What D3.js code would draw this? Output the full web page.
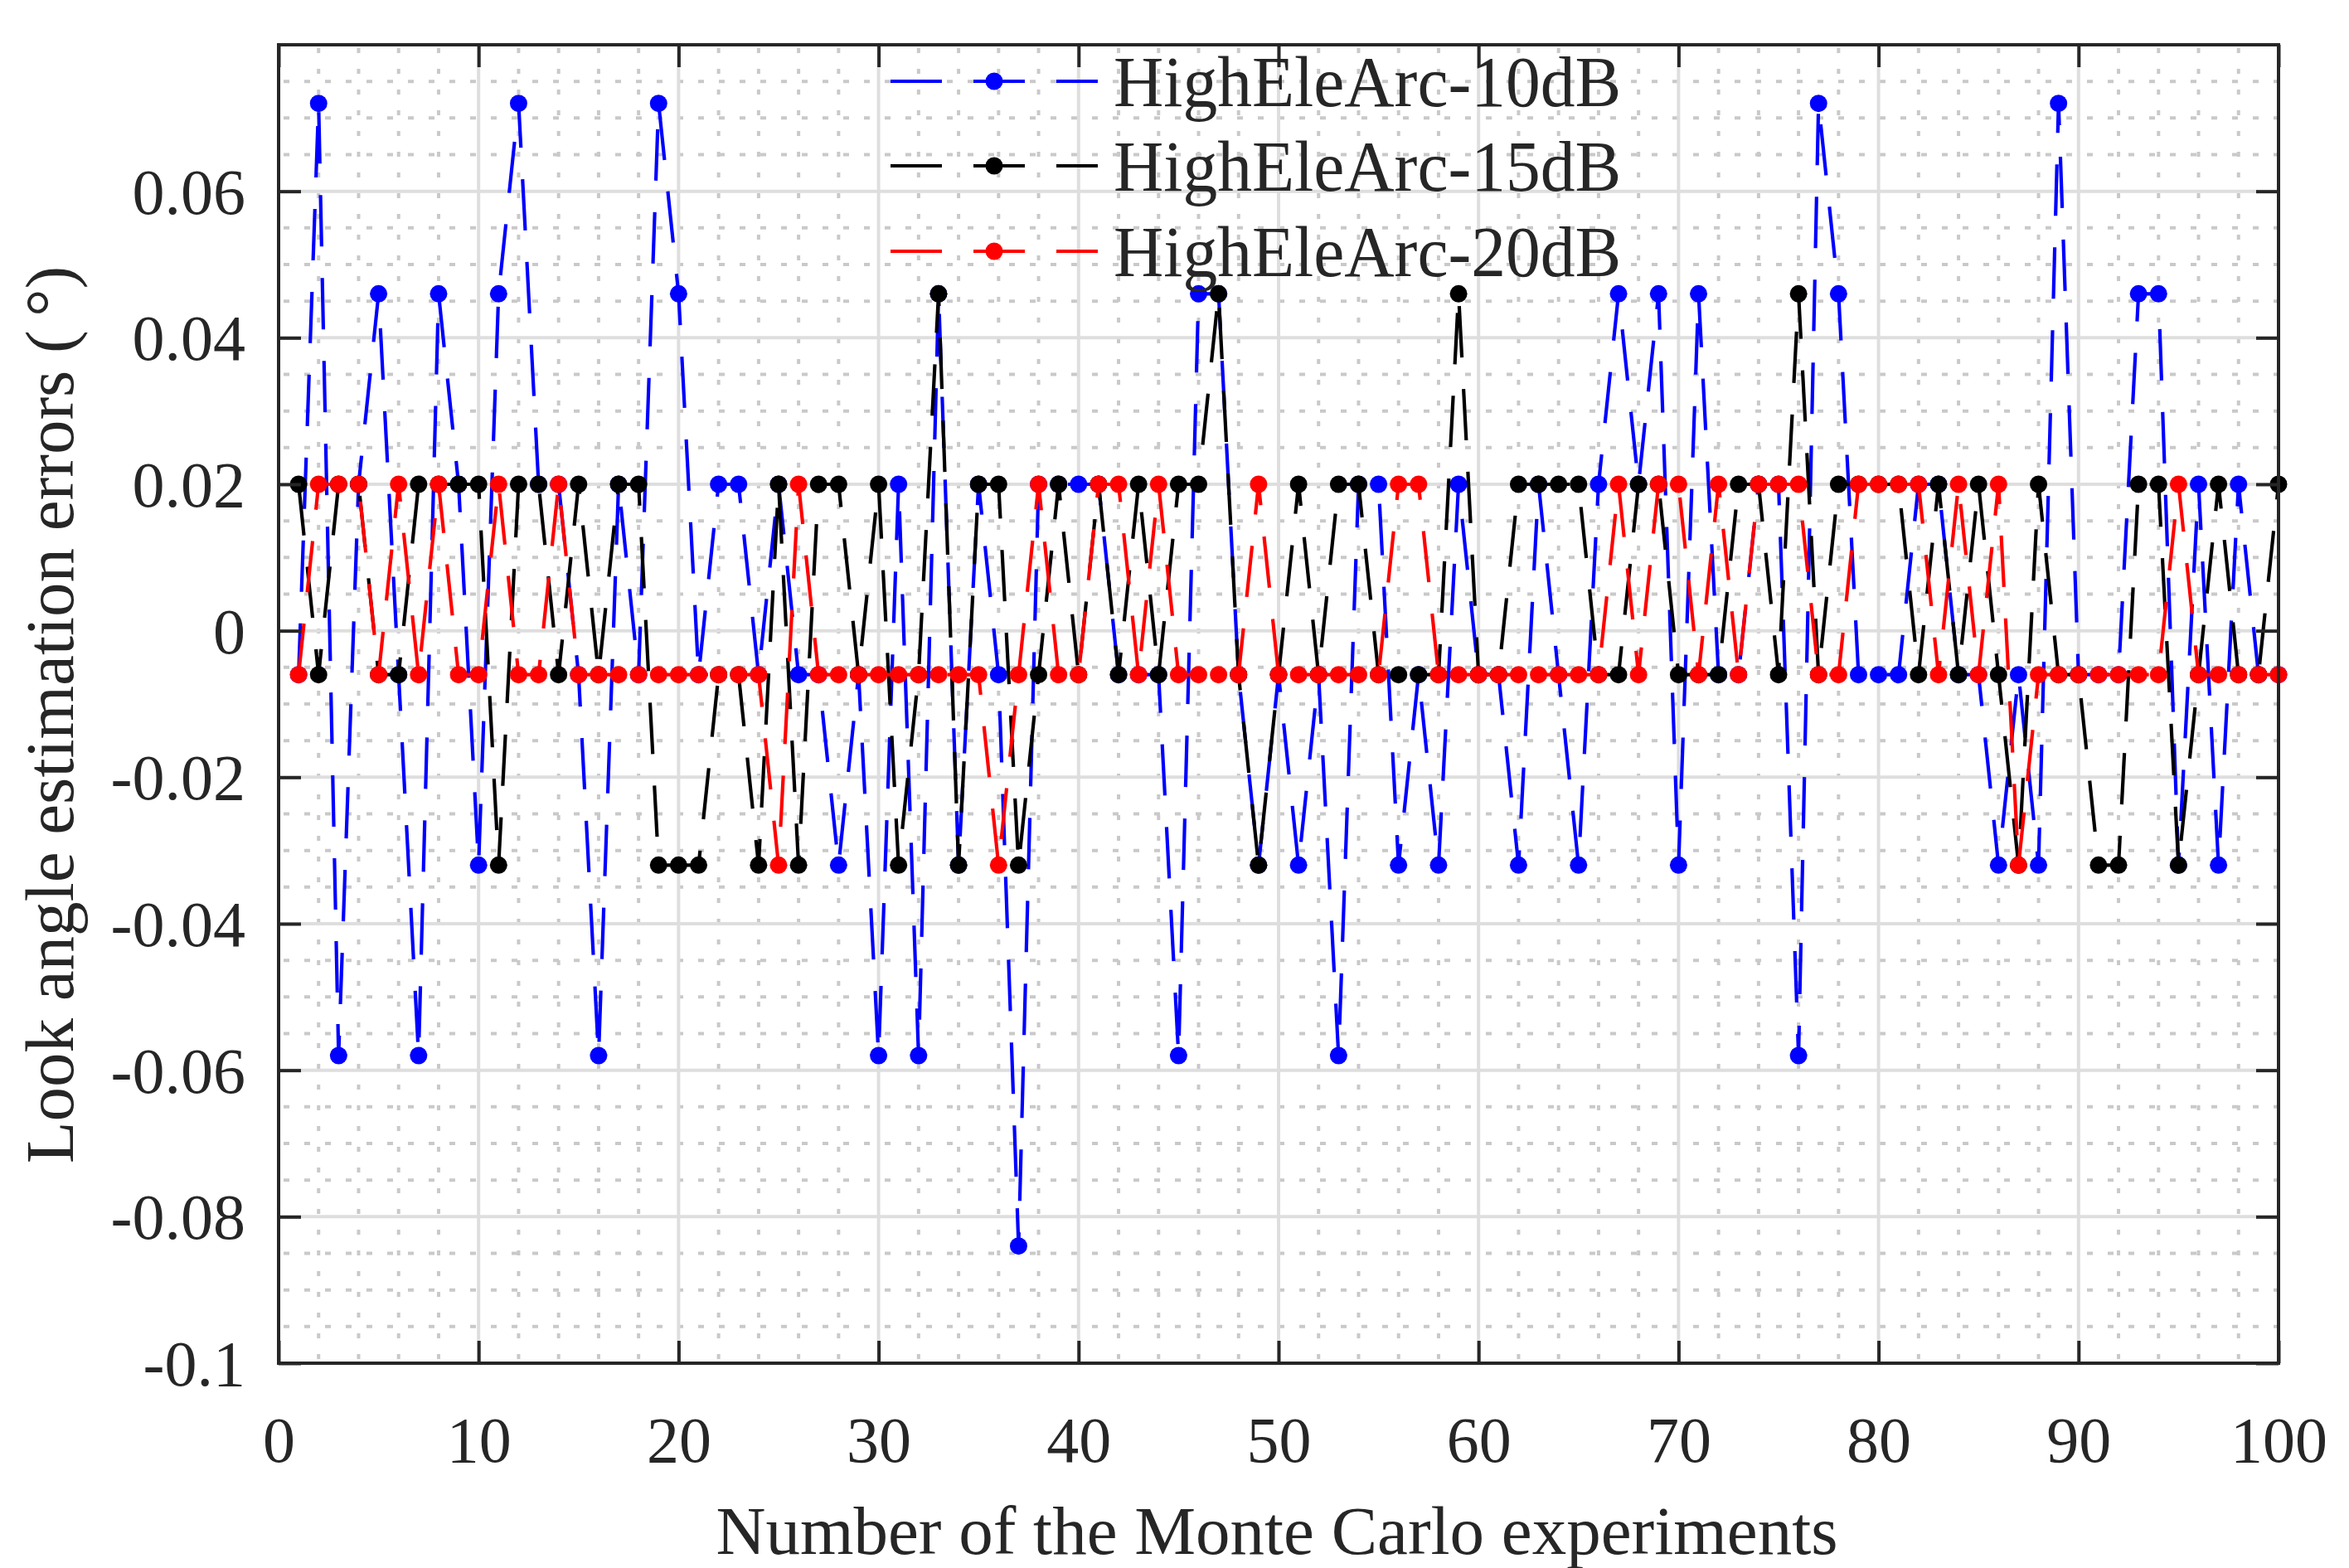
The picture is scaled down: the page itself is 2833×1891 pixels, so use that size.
<!DOCTYPE html>
<html>
<head>
<meta charset="utf-8">
<script src="https://cdn.jsdelivr.net/npm/d3@7"></script>
<style>
  html, body { margin: 0; padding: 0; background: #ffffff; }
  svg { display: block; }
  text { font-family: "Liberation Serif", "Times New Roman", serif; fill: #262626; }
</style>
</head>
<body>
<svg id="chart" width="2833" height="1891"></svg>
<script>
// ---------------- data ----------------
const experimentNo = d3.range(1, 101);

const err10dB = [
  -0.006, 0.072, -0.058, 0.02, 0.046, -0.006, -0.058, 0.046, 0.02, -0.032,
  0.046, 0.072, 0.02, 0.02, -0.006, -0.058, 0.02, -0.006, 0.072, 0.046,
  -0.006, 0.02, 0.02, -0.006, 0.02, -0.006, -0.006, -0.032, -0.006, -0.058,
  0.02, -0.058, 0.046, -0.032, 0.02, -0.006, -0.084, 0.02, 0.02, 0.02,
  0.02, -0.006, -0.006, -0.006, -0.058, 0.046, 0.046, -0.006, -0.032, -0.006,
  -0.032, -0.006, -0.058, 0.02, 0.02, -0.032, -0.006, -0.032, 0.02, -0.006,
  -0.006, -0.032, 0.02, -0.006, -0.032, 0.02, 0.046, 0.02, 0.046, -0.032,
  0.046, -0.006, -0.006, 0.02, 0.02, -0.058, 0.072, 0.046, -0.006, -0.006,
  -0.006, 0.02, 0.02, -0.006, -0.006, -0.032, -0.006, -0.032, 0.072, -0.006,
  -0.006, -0.006, 0.046, 0.046, -0.032, 0.02, -0.032, 0.02, -0.006, -0.006
];

const err15dB = [
  0.02, -0.006, 0.02, 0.02, -0.006, -0.006, 0.02, 0.02, 0.02, 0.02,
  -0.032, 0.02, 0.02, -0.006, 0.02, -0.006, 0.02, 0.02, -0.032, -0.032,
  -0.032, -0.006, -0.006, -0.032, 0.02, -0.032, 0.02, 0.02, -0.006, 0.02,
  -0.032, -0.006, 0.046, -0.032, 0.02, 0.02, -0.032, -0.006, 0.02, -0.006,
  0.02, -0.006, 0.02, -0.006, 0.02, 0.02, 0.046, -0.006, -0.032, -0.006,
  0.02, -0.006, 0.02, 0.02, -0.006, -0.006, -0.006, -0.006, 0.046, -0.006,
  -0.006, 0.02, 0.02, 0.02, 0.02, -0.006, -0.006, 0.02, 0.02, -0.006,
  -0.006, -0.006, 0.02, 0.02, -0.006, 0.046, -0.006, 0.02, 0.02, 0.02,
  0.02, -0.006, 0.02, -0.006, 0.02, -0.006, -0.032, 0.02, -0.006, -0.006,
  -0.032, -0.032, 0.02, 0.02, -0.032, -0.006, 0.02, -0.006, -0.006, 0.02
];

const err20dB = [
  -0.006, 0.02, 0.02, 0.02, -0.006, 0.02, -0.006, 0.02, -0.006, -0.006,
  0.02, -0.006, -0.006, 0.02, -0.006, -0.006, -0.006, -0.006, -0.006, -0.006,
  -0.006, -0.006, -0.006, -0.006, -0.032, 0.02, -0.006, -0.006, -0.006, -0.006,
  -0.006, -0.006, -0.006, -0.006, -0.006, -0.032, -0.006, 0.02, -0.006, -0.006,
  0.02, 0.02, -0.006, 0.02, -0.006, -0.006, -0.006, -0.006, 0.02, -0.006,
  -0.006, -0.006, -0.006, -0.006, -0.006, 0.02, 0.02, -0.006, -0.006, -0.006,
  -0.006, -0.006, -0.006, -0.006, -0.006, -0.006, 0.02, -0.006, 0.02, 0.02,
  -0.006, 0.02, -0.006, 0.02, 0.02, 0.02, -0.006, -0.006, 0.02, 0.02,
  0.02, 0.02, -0.006, 0.02, -0.006, 0.02, -0.032, -0.006, -0.006, -0.006,
  -0.006, -0.006, -0.006, -0.006, 0.02, -0.006, -0.006, -0.006, -0.006, -0.006
];

const seriesNames  = ["HighEleArc-10dB", "HighEleArc-15dB", "HighEleArc-20dB"];
const seriesColors = ["#0000ff", "#000000", "#ff0000"];
const seriesValues = [err10dB, err15dB, err20dB];

const xTickValues = [0, 10, 20, 30, 40, 50, 60, 70, 80, 90, 100];
const yTickValues = [-0.1, -0.08, -0.06, -0.04, -0.02, 0, 0.02, 0.04, 0.06];

const xTitle = "Number of the Monte Carlo experiments";
const yTitle = "Look angle estimation errors (\u2009\u00b0)";

// ---------------- layout ----------------
const svg = d3.select("#chart");
const M = { left: 336, right: 2748, top: 54, bottom: 1644 };
const x = d3.scaleLinear().domain([0, 100]).range([M.left, M.right]);
const y = d3.scaleLinear().domain([-0.1, 0.08]).range([M.bottom, M.top]);

svg.append("rect").attr("width", 2833).attr("height", 1891).attr("fill", "#ffffff");

// minor grid
const minorX = d3.range(0, 100.001, 2).filter(v => v % 10 !== 0);
const minorY = d3.range(-0.1, 0.0801, 0.005).filter(v => Math.abs(Math.round(v * 1000) % 20) !== 0);
const grid = svg.append("g");
grid.selectAll(".mx").data(minorX).join("line")
  .attr("x1", d => x(d)).attr("x2", d => x(d))
  .attr("y1", M.top).attr("y2", M.bottom)
  .attr("stroke", "#c9c9c9").attr("stroke-width", 4)
  .attr("stroke-dasharray", "6,19").attr("stroke-dashoffset", -4);
grid.selectAll(".my").data(minorY).join("line")
  .attr("x1", M.left).attr("x2", M.right)
  .attr("y1", d => y(d)).attr("y2", d => y(d))
  .attr("stroke", "#c9c9c9").attr("stroke-width", 4)
  .attr("stroke-dasharray", "7,18").attr("stroke-dashoffset", -6);

// major grid
grid.selectAll(".gx").data(xTickValues.filter(v => v > 0 && v < 100)).join("line")
  .attr("x1", d => x(d)).attr("x2", d => x(d))
  .attr("y1", M.top).attr("y2", M.bottom)
  .attr("stroke", "#dedede").attr("stroke-width", 4);
grid.selectAll(".gy").data(yTickValues.filter(v => v > -0.1)).join("line")
  .attr("x1", M.left).attr("x2", M.right)
  .attr("y1", d => y(d)).attr("y2", d => y(d))
  .attr("stroke", "#dedede").attr("stroke-width", 4);

// ---------------- series ----------------
const line = d3.line().x(d => x(d[0])).y(d => y(d[1]));
seriesValues.forEach((vals, k) => {
  const pts = experimentNo.map((n, i) => [n, vals[i]]);
  const g = svg.append("g");
  g.append("path").datum(pts)
    .attr("d", line)
    .attr("fill", "none")
    .attr("stroke", seriesColors[k])
    .attr("stroke-width", 4.2)
    .attr("stroke-linejoin", "round")
    .attr("stroke-dasharray", "62,38");
  g.selectAll("circle").data(pts).join("circle")
    .attr("cx", d => x(d[0])).attr("cy", d => y(d[1]))
    .attr("r", 10.5)
    .attr("fill", seriesColors[k]);
});

// ---------------- axes ----------------
const fmt = d => (d === 0 ? "0" : String(+d.toFixed(2)));
const axisColor = "#262626";

const gB = svg.append("g").attr("transform", `translate(0,${M.bottom})`)
  .call(d3.axisBottom(x).tickValues(xTickValues).tickSize(-27).tickPadding(0).tickFormat(d => String(d)));
const gT = svg.append("g").attr("transform", `translate(0,${M.top})`)
  .call(d3.axisTop(x).tickValues(xTickValues).tickSize(-27).tickFormat(""));
const gL = svg.append("g").attr("transform", `translate(${M.left},0)`)
  .call(d3.axisLeft(y).tickValues(yTickValues).tickSize(-27).tickPadding(0).tickFormat(fmt));
const gR = svg.append("g").attr("transform", `translate(${M.right},0)`)
  .call(d3.axisRight(y).tickValues(yTickValues).tickSize(-27).tickFormat(""));

[gB, gT, gL, gR].forEach(g => {
  g.select(".domain").remove();
  g.selectAll(".tick line").attr("stroke", axisColor).attr("stroke-width", 4);
});
gB.selectAll(".tick text")
  .attr("y", 1763 - M.bottom).attr("dy", null)
  .attr("font-size", 78).attr("fill", axisColor)
  .style("font-family", '"Liberation Serif", "Times New Roman", serif');
gL.selectAll(".tick text")
  .attr("x", 296 - M.left).attr("dy", "0.34em")
  .attr("font-size", 78).attr("fill", axisColor)
  .style("font-family", '"Liberation Serif", "Times New Roman", serif');

// frame
svg.append("rect")
  .attr("x", M.left).attr("y", M.top)
  .attr("width", M.right - M.left).attr("height", M.bottom - M.top)
  .attr("fill", "none").attr("stroke", axisColor).attr("stroke-width", 4);

// titles
svg.append("text")
  .attr("x", 1540).attr("y", 1874)
  .attr("text-anchor", "middle").attr("font-size", 83)
  .text(xTitle);
svg.append("text")
  .attr("transform", "translate(88,862) rotate(-90)")
  .attr("text-anchor", "middle").attr("font-size", 83)
  .text(yTitle);

// ---------------- legend ----------------
const legendRows = [98, 200, 303];
const leg = svg.append("g");
seriesNames.forEach((name, k) => {
  const yy = legendRows[k];
  leg.append("line")
    .attr("x1", 1074).attr("x2", 1324).attr("y1", yy).attr("y2", yy)
    .attr("stroke", seriesColors[k]).attr("stroke-width", 4)
    .attr("stroke-dasharray", "62,38");
  leg.append("circle").attr("cx", 1199).attr("cy", yy).attr("r", 10.5).attr("fill", seriesColors[k]);
  leg.append("text")
    .attr("transform", `translate(1343,${yy + 30}) scale(0.96,1)`)
    .attr("font-size", 87).attr("fill", "#000000")
    .text(name);
});
</script>
</body>
</html>
